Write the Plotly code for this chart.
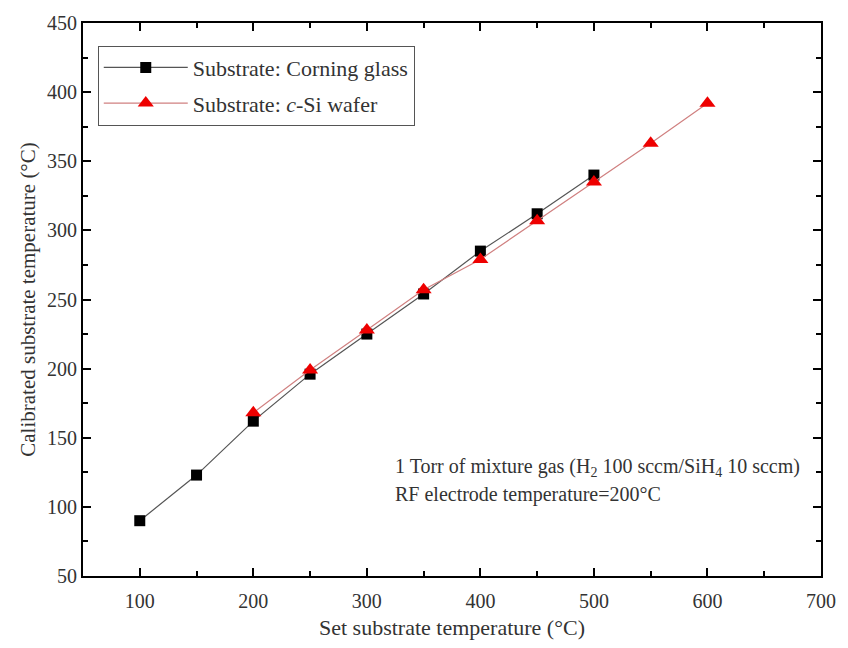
import plotly.graph_objects as go

x_glass = [100, 150, 200, 250, 300, 350, 400, 450, 500]
y_glass = [90, 123, 162, 196, 225, 254, 285, 312, 340]
x_si = [200, 250, 300, 350, 400, 450, 500, 550, 600]
y_si = [168, 199, 228, 257, 279, 307, 335, 363, 392]

FONT = "Liberation Serif"
TXT = "#333333"

fig = go.Figure()
fig.add_trace(go.Scatter(
    x=x_glass, y=y_glass, mode="lines+markers",
    name="Substrate: Corning glass", legendgroup="g1",
    line=dict(color="#555555", width=1.2),
    marker=dict(symbol="square", size=11, color="black", line=dict(width=0)),
))
fig.add_trace(go.Scatter(
    x=x_si, y=y_si, mode="lines+markers",
    name="Substrate: <i>c</i>-Si wafer", legendgroup="g2",
    line=dict(color="#d08080", width=1.2),
    marker=dict(symbol="triangle-up", size=14, color="#ee0000", line=dict(width=0)),
))

axis_common = dict(
    showgrid=False, zeroline=False, showline=True, linecolor="black", linewidth=2,
    mirror="ticks", ticks="inside", ticklen=8, tickwidth=2, tickcolor="black",
    tickfont=dict(family=FONT, size=20, color=TXT),
)
fig.update_xaxes(
    range=[50, 700], dtick=100, tick0=0, ticklabelstandoff=6,
    minor=dict(ticks="inside", dtick=50, ticklen=5, tickwidth=2, tickcolor="black"),
    title=dict(text="Set substrate temperature (°C)", font=dict(family=FONT, size=22, color=TXT), standoff=9),
    **axis_common,
)
fig.update_yaxes(
    range=[50, 450], dtick=50, tick0=0,
    minor=dict(ticks="inside", dtick=25, ticklen=5, tickwidth=2, tickcolor="black"),
    title=dict(text="Calibrated substrate temperature (°C)", font=dict(family=FONT, size=21, color=TXT), standoff=6),
    **axis_common,
)

fig.add_annotation(
    xref="paper", yref="paper", x=0.42, y=0.197, xanchor="left", yanchor="middle",
    text="1 Torr of mixture gas (H<sub>2</sub> 100 sccm/SiH<sub>4</sub> 10 sccm)",
    showarrow=False, font=dict(family=FONT, size=20, color=TXT),
)
fig.add_annotation(
    xref="paper", yref="paper", x=0.42, y=0.147, xanchor="left", yanchor="middle",
    text="RF electrode temperature=200°C",
    showarrow=False, font=dict(family=FONT, size=20, color=TXT),
)

fig.update_layout(
    width=848, height=648,
    margin=dict(l=83, r=17, t=19, b=72),
    paper_bgcolor="white", plot_bgcolor="white",
    showlegend=True,
    legend=dict(
        x=0.02, y=0.959, xanchor="left", yanchor="top",
        bordercolor="#555555", borderwidth=1, bgcolor="white",
        font=dict(family=FONT, size=22, color=TXT),
        itemwidth=84, tracegroupgap=4,
    ),
)

fig.write_html("out.html")
